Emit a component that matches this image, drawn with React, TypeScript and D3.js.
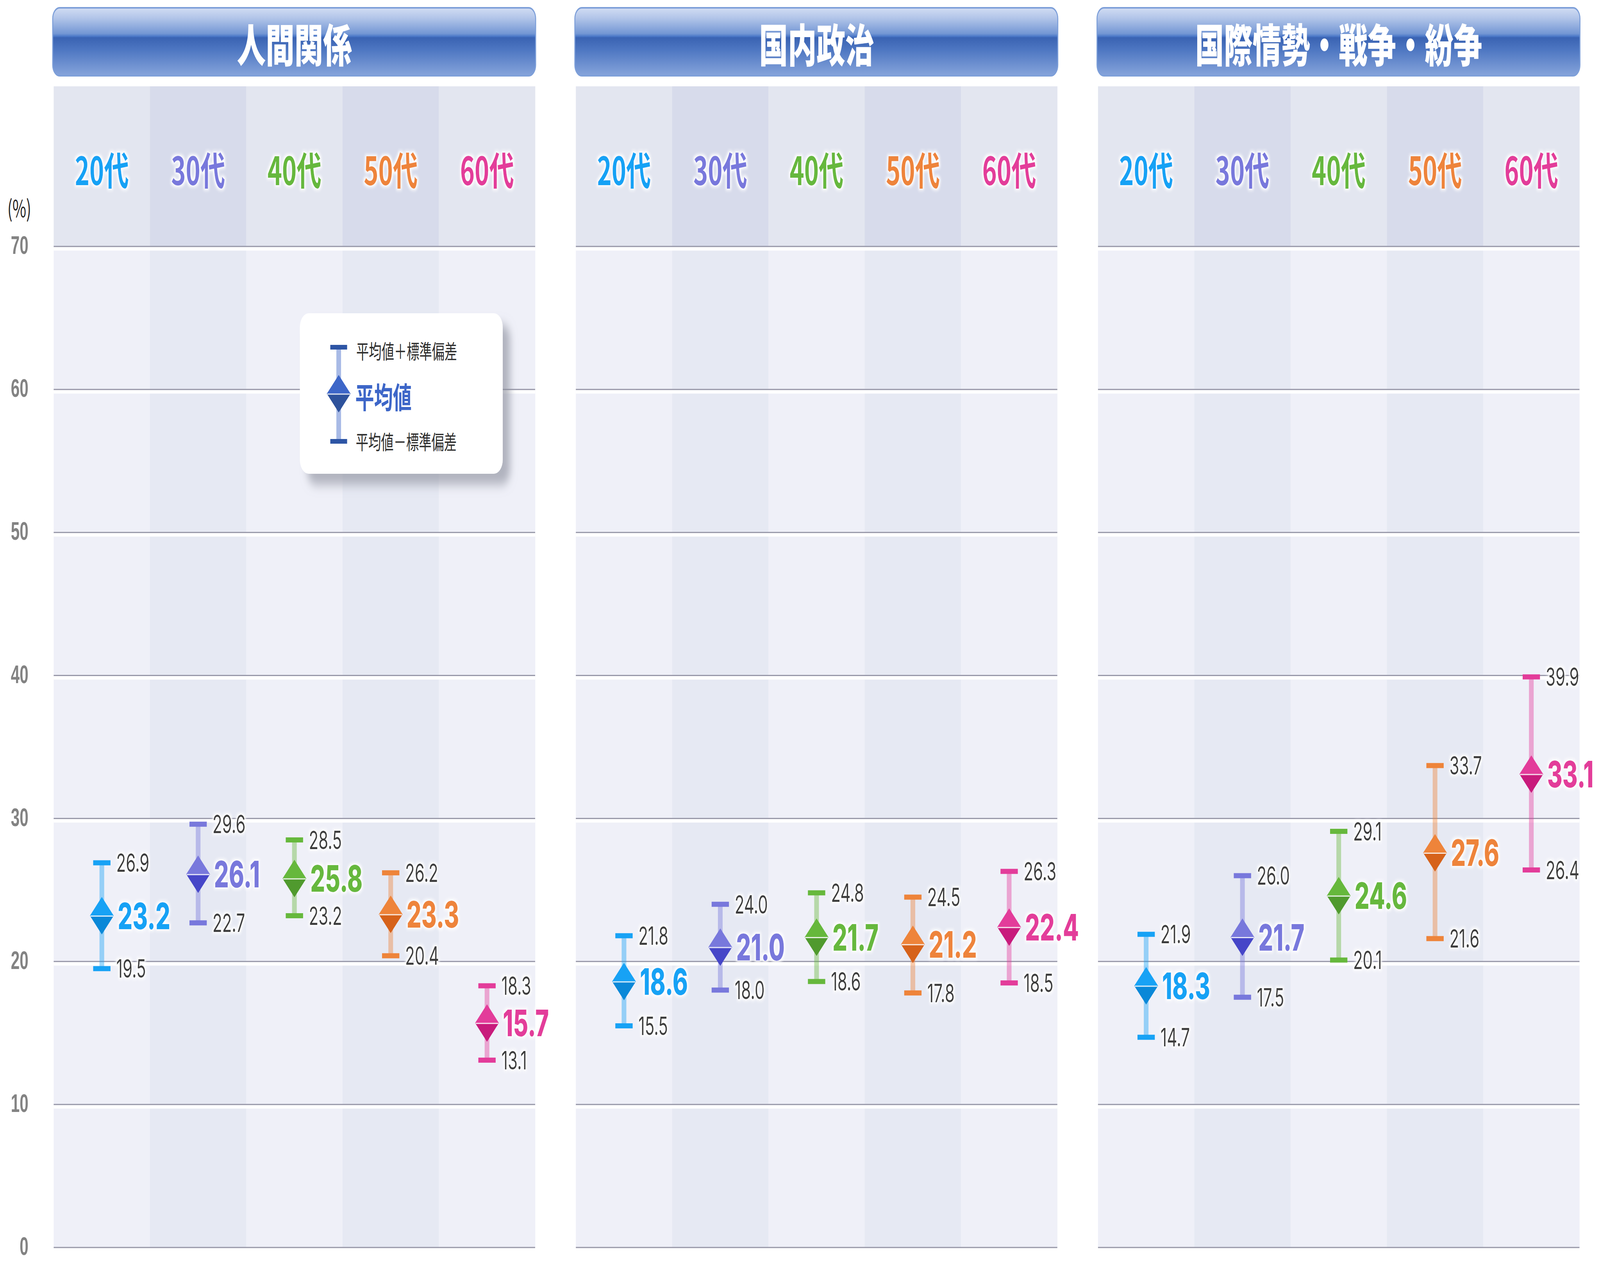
import React, { useEffect } from "react";
import * as d3 from "d3";

const W = 6467;
const H = 3267;

const panels = ["人間関係", "国内政治", "国際情勢・戦争・紛争"];
const ages = ["20代", "30代", "40代", "50代", "60代"];
const yTicks = [0, 10, 20, 30, 40, 50, 60, 70];

const meanRel = [23.2, 26.1, 25.8, 23.3, 15.7];
const upperRel = [26.9, 29.6, 28.5, 26.2, 18.3];
const lowerRel = [19.5, 22.7, 23.2, 20.4, 13.1];

const meanPol = [18.6, 21.0, 21.7, 21.2, 22.4];
const upperPol = [21.8, 24.0, 24.8, 24.5, 26.3];
const lowerPol = [15.5, 18.0, 18.6, 17.8, 18.5];

const meanWar = [18.3, 21.7, 24.6, 27.6, 33.1];
const upperWar = [21.9, 26.0, 29.1, 33.7, 39.9];
const lowerWar = [14.7, 17.5, 20.1, 21.6, 26.4];

const means = [meanRel, meanPol, meanWar];
const uppers = [upperRel, upperPol, upperWar];
const lowers = [lowerRel, lowerPol, lowerWar];

const mainColors = ["#17a2f5", "#7878dc", "#66b83c", "#ee843a", "#e33c9a"];
const darkColors = ["#0a88d8", "#4646c8", "#509a2e", "#d6621a", "#c81b7c"];

const PANEL_W = 1946;
const PANEL_STEP = 2110.5;
const PANEL_X0 = 217;
const HEAD_BAND_TOP = 221;

const NUM_FONT = "Inter, 'Noto Sans', sans-serif";
const JP_FONT = "'Noto Sans CJK JP', 'Noto Sans', sans-serif";

const y = d3.scaleLinear().domain([0, 70]).range([3194, 631]);

function fmt(v: number) {
  return d3.format(".1f")(v);
}

function Panel({ pi }: { pi: number }) {
  const px = PANEL_X0 + pi * PANEL_STEP;
  const x = d3.scaleBand<string>().domain(ages).range([px, px + PANEL_W]).padding(0);
  const bw = x.bandwidth();
  const yTop = y(70);
  const yBot = y(0);
  return (
    <g>
      <rect x={px - 4} y={20} width={PANEL_W + 6} height={174} rx={28} ry={28}
        fill="url(#hdrGrad)" stroke="#7d9fd9" strokeWidth={4} />
      <text x={px + PANEL_W / 2} y={108} textAnchor="middle" dominantBaseline="central"
        fontFamily={JP_FONT} fontWeight={900} fontSize={116} fill="#ffffff">{panels[pi]}</text>

      {ages.map((a, i) => (
        <g key={a}>
          <rect x={x(a)!} y={HEAD_BAND_TOP} width={bw + 0.5} height={yTop - HEAD_BAND_TOP}
            fill={i % 2 === 0 ? "#e3e6f0" : "#d7dbeb"} />
          <rect x={x(a)!} y={yTop} width={bw + 0.5} height={yBot - yTop}
            fill={i % 2 === 0 ? "#eff0f8" : "#e6e9f3"} />
        </g>
      ))}

      {yTicks.map((t) => (
        <g key={t}>
          {t !== 0 && (
            <rect x={px} y={y(t) + 1.5} width={PANEL_W} height={9} fill="#ffffff" />
          )}
          <rect x={px} y={y(t) - 1.5} width={PANEL_W} height={3} fill="#9797a8" />
        </g>
      ))}

      {ages.map((a, i) => (
        <text key={a} x={x(a)! + bw / 2} y={430} textAnchor="middle" dominantBaseline="central"
          fontFamily={JP_FONT} fontWeight={700} fontSize={100} fill={mainColors[i]}
          filter="url(#glow)">{a}</text>
      ))}

      {ages.map((a, i) => {
        const cx = x(a)! + bw / 2;
        const m = means[pi][i];
        const u = uppers[pi][i];
        const l = lowers[pi][i];
        const ym = y(m), yu = y(u), yl = y(l);
        const hw = 48;
        return (
          <g key={a}>
            <rect x={cx - 9.5} y={yu} width={19} height={yl - yu} fill={mainColors[i]} opacity={0.42} />
            <rect x={cx - 35} y={yu - 6.5} width={70} height={13} fill={mainColors[i]} />
            <rect x={cx - 35} y={yl - 6.5} width={70} height={13} fill={mainColors[i]} />
            <path d={`M${cx - hw},${ym} L${cx},${ym - hw} L${cx + hw},${ym} Z`} fill={mainColors[i]} />
            <path d={`M${cx - hw},${ym} L${cx + hw},${ym} L${cx},${ym + hw} Z`} fill={darkColors[i]} />
            <line x1={cx - hw + 2} x2={cx + hw - 2} y1={ym + 1} y2={ym + 1} stroke="#ffffff" strokeWidth={3} opacity={0.85} />
            <text x={cx + 58} y={yu} dominantBaseline="central" fontFamily={NUM_FONT} fontSize={64}
              fill="#3c3c3c" filter="url(#glow)">{fmt(u)}</text>
            <text x={cx + 58} y={yl} dominantBaseline="central" fontFamily={NUM_FONT} fontSize={64}
              fill="#3c3c3c" filter="url(#glow)">{fmt(l)}</text>
            <text x={cx + 64} y={ym} dominantBaseline="central" fontFamily={NUM_FONT} fontWeight={800}
              fontSize={94} fill={mainColors[i]} filter="url(#glow)">{fmt(m)}</text>
          </g>
        );
      })}
    </g>
  );
}

function Legend() {
  const bx = 1212, by = 802, bwid = 820, bh = 411;
  const cx = 1369, yu = 889, ym = 1008, yl = 1130, hw = 48;
  const main = "#3d66c8", dark = "#2e529c", cap = "#2d55a5";
  return (
    <g>
      <rect x={bx} y={by} width={bwid} height={bh} rx={36} ry={36} fill="#ffffff" filter="url(#shadow)" />
      <rect x={cx - 9.5} y={yu} width={19} height={yl - yu} fill={main} opacity={0.45} />
      <rect x={cx - 34} y={yu - 6} width={68} height={12} fill={cap} />
      <rect x={cx - 34} y={yl - 6} width={68} height={12} fill={cap} />
      <path d={`M${cx - hw},${ym} L${cx},${ym - hw} L${cx + hw},${ym} Z`} fill={main} />
      <path d={`M${cx - hw},${ym} L${cx + hw},${ym} L${cx},${ym + hw} Z`} fill={dark} />
      <line x1={cx - hw + 2} x2={cx + hw - 2} y1={ym + 1} y2={ym + 1} stroke="#ffffff" strokeWidth={3} opacity={0.85} />
      <text x={1440} y={yu + 7} dominantBaseline="central" fontFamily={JP_FONT} fontSize={51} fill="#2e2e2e">平均値＋標準偏差</text>
      <text x={1436} y={ym + 5} dominantBaseline="central" fontFamily={JP_FONT} fontWeight={700} fontSize={76} fill={main}>平均値</text>
      <text x={1438} y={yl - 2} dominantBaseline="central" fontFamily={JP_FONT} fontSize={51} fill="#2e2e2e">平均値－標準偏差</text>
    </g>
  );
}

export default function App() {
  useEffect(() => {
    document.body.style.margin = "0";
    document.documentElement.style.margin = "0";
    document.body.style.overflow = "hidden";
  }, []);
  return (
    <svg viewBox={`0 0 ${W} ${H}`} preserveAspectRatio="none"
      style={{ display: "block", width: "100vw", height: "100vh", background: "#ffffff" }}>
      <defs>
        <linearGradient id="hdrGrad" x1="0" y1="0" x2="0" y2="1">
          <stop offset="0%" stopColor="#d2ddf3" />
          <stop offset="15%" stopColor="#b2c5e9" />
          <stop offset="38%" stopColor="#7497d4" />
          <stop offset="42%" stopColor="#4b78c8" />
          <stop offset="44%" stopColor="#3a63b3" />
          <stop offset="62%" stopColor="#4e77c2" />
          <stop offset="100%" stopColor="#86a4db" />
        </linearGradient>
        <filter id="glow" x="-20%" y="-40%" width="140%" height="180%">
          <feMorphology in="SourceAlpha" operator="dilate" radius={4} result="d" />
          <feGaussianBlur in="d" stdDeviation={4} result="b" />
          <feFlood floodColor="#ffffff" result="f" />
          <feComposite in="f" in2="b" operator="in" result="g" />
          <feMerge>
            <feMergeNode in="g" />
            <feMergeNode in="SourceGraphic" />
          </feMerge>
        </filter>
        <filter id="shadow" x="-10%" y="-10%" width="130%" height="140%">
          <feDropShadow dx={30} dy={28} stdDeviation={14} floodColor="#868a98" floodOpacity={0.6} />
        </filter>
      </defs>

      <text x={78} y={530} textAnchor="middle" dominantBaseline="central"
        fontFamily={JP_FONT} fontSize={60} fill="#222222">(%)</text>
      {yTicks.map((t) => (
        <text key={t} x={115} y={y(t) - 3} textAnchor="end" dominantBaseline="central"
          fontFamily="'Liberation Sans', Arial, sans-serif" fontWeight={700} fontSize={64}
          fill="#838383">{t}</text>
      ))}

      {panels.map((p, i) => (
        <Panel key={p} pi={i} />
      ))}

      <Legend />
    </svg>
  );
}
